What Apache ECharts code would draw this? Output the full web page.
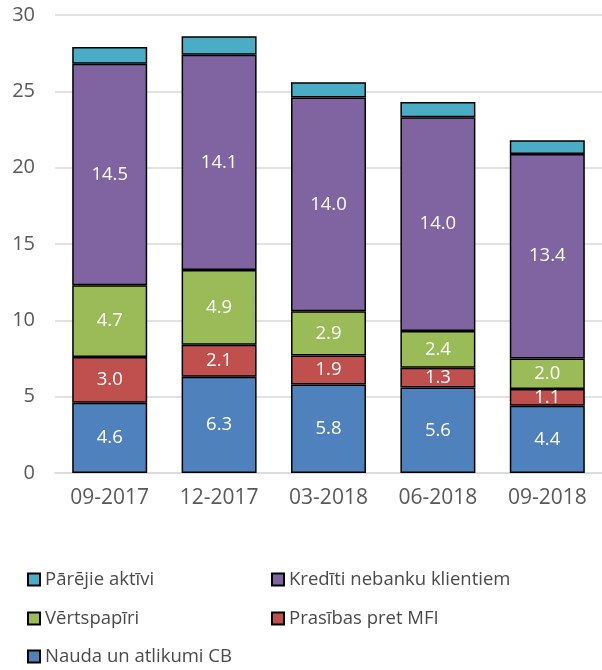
<!DOCTYPE html>
<html><head><meta charset="utf-8">
<script src="https://cdn.jsdelivr.net/npm/echarts@6/dist/echarts.min.js"></script>
<style>html,body{margin:0;padding:0;background:#fff}#c{width:602px;height:670px}</style>
</head><body><div id="c"></div>
<script>
const categories = ['09-2017','12-2017','03-2018','06-2018','09-2018'];
const nauda = [4.6, 6.3, 5.8, 5.6, 4.4];
const prasibas = [3.0, 2.1, 1.9, 1.3, 1.1];
const vertspapiri = [4.7, 4.9, 2.9, 2.4, 2.0];
const krediti = [14.5, 14.1, 14.0, 14.0, 13.4];
const parejie = [1.1, 1.2, 1.0, 1.0, 0.9];
const yTicks = [0, 5, 10, 15, 20, 25, 30];

const FONT = 'Open Sans';
const chart = echarts.init(document.getElementById('c'));
function ser(name, data, color, label) {
  return {
    name, type: 'bar', stack: 'a', data, barWidth: 75,
    itemStyle: {color, borderColor: '#000', borderWidth: 1.5},
    label: {show: label, color: '#fff', fontSize: 18.5, fontFamily: FONT,
      formatter: p => p.value.toFixed(1)},
    emphasis: {disabled: true}
  };
}
function leg(name, left, top) {
  return {data: [name], left, top, itemWidth: 12, itemHeight: 12, itemGap: 0,
    icon: 'rect', textStyle: {fontSize: 18.5, fontFamily: FONT, color: '#4a4a4a', padding: [0,0,0,0]}};
}
chart.setOption({
  animation: false,
  textStyle: {fontFamily: FONT},
  grid: {left: 55, right: -5, top: 15, bottom: 197, containLabel: false},
  legend: [
    leg('Pārējie aktīvi', 22, 565),
    leg('Kredīti nebanku klientiem', 266, 565),
    leg('Vērtspapīri', 22, 604),
    leg('Prasības pret MFI', 266, 604),
    leg('Nauda un atlikumi CB', 22, 642)
  ],
  xAxis: {type: 'category', data: categories,
    axisLine: {lineStyle: {color: '#d9d9d9', width: 1.5}},
    axisTick: {show: false},
    axisLabel: {fontSize: 21, color: '#595959', fontFamily: FONT, margin: 15}},
  yAxis: {type: 'value', min: yTicks[0], max: yTicks[yTicks.length-1], interval: 5,
    axisLine: {show: false}, axisTick: {show: false},
    splitLine: {lineStyle: {color: '#d9d9d9', width: 1.5}},
    axisLabel: {fontSize: 20, color: '#595959', fontFamily: FONT, margin: 20}},
  series: [
    ser('Nauda un atlikumi CB', nauda, '#4F81BD', true),
    ser('Prasības pret MFI', prasibas, '#C0504D', true),
    ser('Vērtspapīri', vertspapiri, '#9BBB59', true),
    ser('Kredīti nebanku klientiem', krediti, '#8064A2', true),
    ser('Pārējie aktīvi', parejie, '#4BACC6', false)
  ]
});
</script></body></html>
